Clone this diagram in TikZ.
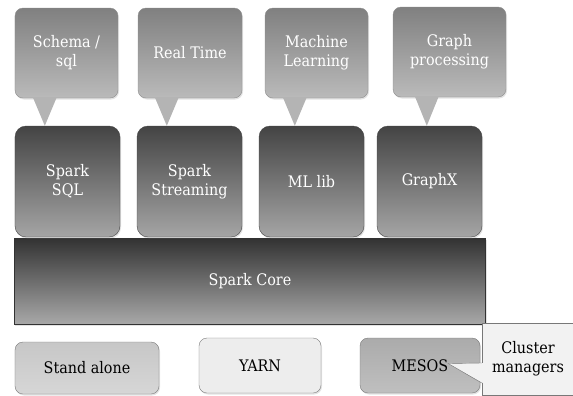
\documentclass[tikz,border=0pt]{standalone}
\usepackage{fontspec}
\setmainfont{DejaVu Serif Condensed}
\usetikzlibrary{shadows,calc}
\definecolor{bubtop}{RGB}{128,128,128}
\definecolor{bubbot}{RGB}{186,186,186}
\definecolor{tipcol}{RGB}{180,180,180}
\definecolor{sparktop}{RGB}{68,68,68}
\definecolor{sparkbot}{RGB}{165,165,165}
\definecolor{coretop}{RGB}{50,50,50}
\definecolor{corebot}{RGB}{168,168,168}
\definecolor{edgegray}{RGB}{120,120,120}
\definecolor{cmfill}{RGB}{242,242,242}
\begin{document}
\begin{tikzpicture}[x=1bp,y=-1bp,
  font=\fontsize{16}{19}\selectfont,
  base/.style={inner sep=0pt, align=center,
    drop shadow={opacity=0.22, shadow xshift=1bp, shadow yshift=-1.5bp}},
  bubble/.style={base, rectangle, rounded corners=8bp,
    top color=bubtop, bottom color=bubbot, draw=bubtop!90,
    text=white, minimum height=90bp},
  pointer/.style={fill=tipcol},
  sparkbox/.style={base, rectangle, rounded corners=11bp,
    top color=sparktop, bottom color=sparkbot, draw=sparktop,
    text=white, minimum width=105bp, minimum height=111bp},
  corebox/.style={base, rectangle, top color=coretop, bottom color=corebot,
    draw=coretop, text=white},
  mgrbox/.style={base, rectangle, rounded corners=8bp, draw=edgegray,
    text=black, minimum height=55bp},
  cluster/.style={inner sep=0pt, align=center, rectangle,
    fill=cmfill, draw=edgegray, text=black}
]
\useasboundingbox (0,0) rectangle (573,395);

% Spark core
\node[corebox, minimum width=471bp, minimum height=86bp] (core) at (250,281) {Spark Core};

% library boxes
\node[sparkbox] (sql)  at (67.5,181.5)  {Spark\\SQL};
\node[sparkbox] (strm) at (189.5,181.5) {Spark\\Streaming};
\node[sparkbox] (ml)   at (311.5,181.5) {ML lib};
\node[sparkbox] (gx)   at (429.5,181.5) {GraphX};

% callouts
\node[bubble, minimum width=103bp] (sch)  at (66.5,53)  {Schema /\\sql};
\node[bubble, minimum width=104bp] (rt)   at (190,53)   {Real Time};
\node[bubble, minimum width=103bp] (mlrn) at (316.5,53) {Machine\\Learning};
\node[bubble, minimum width=113bp] (gp)   at (449.5,52) {Graph\\processing};

% pointers from callouts to boxes
\foreach \bb/\ss/\dd in {sch/sql/30, rt/strm/29, mlrn/ml/30, gp/gx/34}{
  \coordinate (pm) at ($(\bb.south west)+(\dd,-1)$);
  \fill[pointer] ($(pm)+(-12,0)$) -- ($(pm)+(12,0)$) -- (pm |- \ss.north) -- cycle;
}

% cluster managers
\node[mgrbox, minimum width=144bp, minimum height=52bp, top color=black!22, bottom color=black!16] (sa) at (87,368) {Stand alone};
\node[mgrbox, minimum width=122bp, fill=black!7] (yarn) at (260,365.5) {YARN};
\node[mgrbox, minimum width=120bp, top color=black!33, bottom color=black!25] (mesos) at (420,365.5) {MESOS};
\node[cluster, minimum width=92bp, minimum height=72bp] (cm) at (528,359) {Cluster\\managers};
\coordinate (mtip) at ($(mesos.east)+(-32,-2)$);
\coordinate (wa) at ($(cm.west)+(0,4)$);
\coordinate (wb) at ($(cm.west)+(0,24)$);
\fill[cmfill] ($(wa)+(1,0)$) -- (mtip) -- ($(wb)+(1,0)$) -- cycle;
\draw[edgegray] (wa) -- (mtip) -- (wb);
\end{tikzpicture}
\end{document}
